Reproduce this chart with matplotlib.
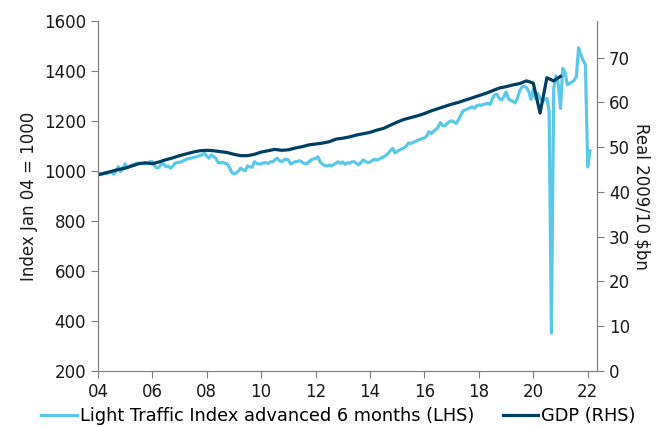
import numpy as np
import pandas as pd
from matplotlib import pyplot as plt

# Light traffic index (monthly, Jan 2004 - Feb 2022), index Jan 04 = 1000
lti_2004 = [991, 990, 987, 992, 990, 993, 995, 987, 1000, 1017, 997, 1010]
lti_2005 = [1028, 1012, 1018, 1024, 1026, 1030, 1031, 1030, 1029, 1028, 1032, 1037]
lti_2006 = [1037, 1020, 1012, 1015, 1028, 1028, 1017, 1020, 1011, 1018, 1031, 1034]
lti_2007 = [1035, 1037, 1042, 1047, 1049, 1051, 1054, 1056, 1058, 1062, 1064, 1071]
lti_2008 = [1060, 1051, 1064, 1058, 1051, 1034, 1032, 1034, 1031, 1028, 1015, 995]
lti_2009 = [988, 992, 1000, 1011, 1004, 1001, 1020, 1016, 1015, 1037, 1030, 1028]
lti_2010 = [1028, 1032, 1033, 1030, 1036, 1037, 1044, 1051, 1042, 1037, 1044, 1047]
lti_2011 = [1044, 1028, 1032, 1037, 1038, 1041, 1036, 1030, 1028, 1036, 1044, 1048]
lti_2012 = [1050, 1057, 1036, 1028, 1022, 1020, 1024, 1020, 1026, 1031, 1037, 1030]
lti_2013 = [1036, 1026, 1033, 1031, 1036, 1037, 1030, 1024, 1034, 1044, 1038, 1033]
lti_2014 = [1036, 1042, 1047, 1044, 1047, 1052, 1056, 1062, 1070, 1082, 1090, 1072]
lti_2015 = [1078, 1084, 1088, 1092, 1100, 1112, 1110, 1114, 1118, 1122, 1126, 1130]
lti_2016 = [1131, 1140, 1157, 1150, 1158, 1165, 1175, 1193, 1182, 1180, 1190, 1197]
lti_2017 = [1200, 1196, 1190, 1205, 1222, 1240, 1244, 1248, 1252, 1256, 1250, 1260]
lti_2018 = [1264, 1262, 1266, 1268, 1270, 1266, 1290, 1304, 1306, 1290, 1284, 1296]
lti_2019 = [1316, 1290, 1282, 1278, 1272, 1290, 1320, 1336, 1338, 1334, 1318, 1286]
lti_2020 = [1326, 1290, 1310, 1290, 1277, 1285, 1290, 1240, 352, 1330, 1380, 1350]
lti_2021 = [1250, 1410, 1395, 1345, 1350, 1355, 1362, 1378, 1492, 1465, 1442, 1425]
lti_2022 = [1016, 1080]

lti = (lti_2004 + lti_2005 + lti_2006 + lti_2007 + lti_2008 + lti_2009 + lti_2010
       + lti_2011 + lti_2012 + lti_2013 + lti_2014 + lti_2015 + lti_2016 + lti_2017
       + lti_2018 + lti_2019 + lti_2020 + lti_2021 + lti_2022)
lti_dates = pd.date_range('2004-01-01', periods=len(lti), freq='MS')

# GDP (quarterly, Q1 2004 - Q1 2021), real 2009/10 $bn
gdp = [43.8, 44.2, 44.6, 45.0,
       45.3, 45.8, 46.3, 46.5,
       46.3, 46.7, 47.2, 47.6,
       48.1, 48.5, 48.9, 49.2,
       49.3, 49.2, 49.0, 48.8,
       48.4, 48.1, 48.1, 48.4,
       48.9, 49.2, 49.5, 49.3,
       49.4, 49.8, 50.1, 50.5,
       50.7, 50.9, 51.2, 51.8,
       52.0, 52.3, 52.7, 53.0,
       53.3, 53.8, 54.2, 54.9,
       55.6, 56.2, 56.6, 57.0,
       57.5, 58.1, 58.6, 59.1,
       59.6, 60.0, 60.5, 61.0,
       61.5, 62.0, 62.6, 63.2,
       63.5, 63.9, 64.2, 64.8,
       64.3, 57.6, 65.5, 64.8,
       65.8]
gdp_dates = pd.date_range('2004-01-01', periods=len(gdp), freq='QS')

year_ticks = list(range(2004, 2023, 2))
year_labels = ['04', '06', '08', '10', '12', '14', '16', '18', '20', '22']


def dec_year(dates):
    return dates.year + (dates.month - 1) / 12.0


light = '#5bc8e8'
dark = '#003f62'
grey = '#7f7f7f'

plt.rcParams['font.family'] = ['DejaVu Sans']
fig = plt.figure(figsize=(6.57, 4.26), dpi=100)
ax = fig.add_axes([0.149, 0.129, 0.76, 0.822])
ax2 = ax.twinx()

l1, = ax.plot(dec_year(lti_dates), lti, color=light, lw=2.3,
              label='Light Traffic Index advanced 6 months (LHS)')
l2, = ax2.plot(dec_year(gdp_dates), gdp, color=dark, lw=2.3, label='GDP (RHS)')

ax.set_xlim(2004, 2022.35)
ax.set_ylim(200, 1600)
ax2.set_ylim(0, 78.2)
ax.set_xticks(year_ticks)
ax.set_xticklabels(year_labels)
ax.set_yticks(range(200, 1601, 200))
ax2.set_yticks(range(0, 71, 10))

for a in (ax, ax2):
    a.spines['top'].set_visible(False)
    for s in ('left', 'right', 'bottom'):
        a.spines[s].set_color(grey)
    a.tick_params(colors=grey, labelcolor='#1a1a1a', labelsize=12, length=5)

ax.set_ylabel('Index Jan 04 = 1000', fontsize=12, color='#1a1a1a')
ax2.set_ylabel('Real 2009/10 $bn', fontsize=12, color='#1a1a1a', rotation=270, labelpad=15)

fig.legend(handles=[l1, l2], loc='center', bbox_to_anchor=(0.515, 0.024), ncol=2,
           frameon=False, fontsize=12.8, handlelength=2.0, columnspacing=1.6,
           handletextpad=0.15, borderpad=0.1)

fig.savefig('out.png', dpi=100)
